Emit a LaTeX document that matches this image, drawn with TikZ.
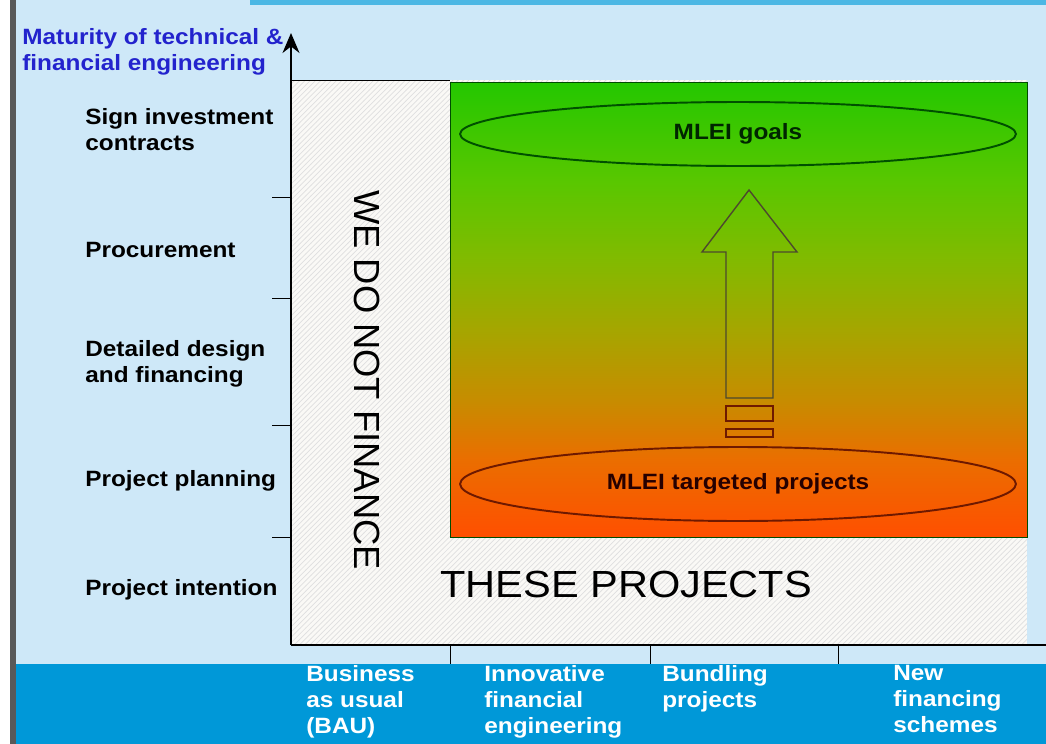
\documentclass[tikz,border=0pt]{standalone}
\usepackage{fontspec}
\setmainfont{Liberation Sans}[FakeStretch=1.1]
\newfontfamily\narrowfont{Liberation Sans}
\usetikzlibrary{positioning,shapes.geometric,patterns,arrows.meta}

\definecolor{slidebg}{RGB}{206,232,248}
\definecolor{bandblue}{RGB}{0,152,216}
\definecolor{axisblue}{RGB}{35,35,205}
\definecolor{hatchbg}{RGB}{250,249,246}
\definecolor{goalline}{RGB}{0,80,0}
\definecolor{projline}{RGB}{110,25,0}

\pgfdeclareverticalshading{maturity}{100bp}{%
  rgb(0bp)=(1,0.31,0); rgb(25bp)=(1,0.31,0); rgb(33.5bp)=(0.92,0.43,0);
  rgb(40bp)=(0.78,0.55,0); rgb(47.7bp)=(0.65,0.65,0); rgb(55.4bp)=(0.51,0.73,0);
  rgb(64bp)=(0.35,0.78,0); rgb(75bp)=(0.14,0.78,0); rgb(100bp)=(0.14,0.78,0)}

\tikzset{
  small label/.style={font=\bfseries\fontsize{12.6}{14.8}\selectfont, align=left, inner sep=0pt},
  stage/.style={small label, anchor=west},
  scheme/.style={small label, anchor=north west, text=white},
  target/.style={ellipse, draw, line width=1.1pt, minimum width=11.12cm, inner sep=0pt, small label},
  axis arrow/.style={-{Stealth[length=4mm, width=3.4mm]}, thick}
}

\begin{document}
\begin{tikzpicture}[x=0.02cm, y=-0.02cm]
	\useasboundingbox (0,0) rectangle (1046,744);

	% slide background
	\fill[white] (0,0) rectangle (1046,744);
	\fill[slidebg] (12,0) rectangle (1046,744);
	\fill[bandblue!70] (250,0) rectangle (1046,5);
	\fill[bandblue] (16,664) rectangle (1046,744);
	\fill[black!65] (10,0) rectangle (16,744);

	% hatched area and gradient box
	\fill[hatchbg] (291,80) rectangle (1027,645);
	\fill[pattern=north east lines, pattern color=gray!25] (291,80) rectangle (1027,645);
	\shade[shading=maturity] (450,82) rectangle (1027,537);
	\draw[black!70!green] (450,82) rectangle (1027,537);
	\draw (291,80) -- (450,80);

	% axes
	\coordinate (origin) at (291,645);
	\coordinate (ytop) at (291,33);
	\coordinate (xend) at (1046,645);
	\draw[axis arrow] (origin) -- (ytop);
	\draw[thick] (origin) -- (xend);
	\foreach \y in {197,298,425,537}
		\draw (272,\y) -- (291,\y);
	\foreach \x in {450,650,838}
		\draw (\x,645) -- (\x,664);

	\node[small label, anchor=west, text=axisblue] (ytitle) at (22,52) {Maturity of technical \&\\financial engineering};

	% stages
	\node[stage] (contracts) at (85,130) {Sign investment\\contracts};
	\node[stage] (procure) at (85,250) {Procurement};
	\node[stage] (design) at (85,364) {Detailed design\\and financing};
	\node[stage] (planning) at (85,481) {Project planning};
	\node[stage] (intention) at (85,590) {Project intention};

	% schemes
	\node[scheme] (bau) at (306,665) {Business\\as usual\\(BAU)};
	\node[scheme] (innov) at (484,665) {Innovative\\financial\\engineering};
	\node[scheme] (bundle) at (662,665) {Bundling\\projects};
	\node[scheme] (newfin) at (893,665) {New\\financing\\schemes};

	% big texts
	\node[rotate=-90, font=\narrowfont\fontsize{20.7}{24}\selectfont] (nofin) at (367,380) {WE DO NOT FINANCE};
	\node[anchor=west, inner sep=0pt, font=\fontsize{21.5}{24}\selectfont] (these) at (440,584) {THESE PROJECTS};

	% ellipses
	\node[target, draw=goalline, text=black!85!green, minimum height=1.28cm] (goals) at (738,134) {MLEI goals};
	\node[target, draw=projline, text=black!85!red, minimum height=1.48cm] (targeted) at (738,484) {MLEI targeted projects};

	% block arrow
	\draw[black!60!olive, thick] (749,190) -- (797,252) -- (773,252) -- (773,398) -- (726,398) -- (726,252) -- (702,252) -- cycle;
	\draw[projline, thick] (726,406) rectangle (773,421);
	\draw[projline, thick] (726,429) rectangle (773,437);
\end{tikzpicture}
\end{document}
